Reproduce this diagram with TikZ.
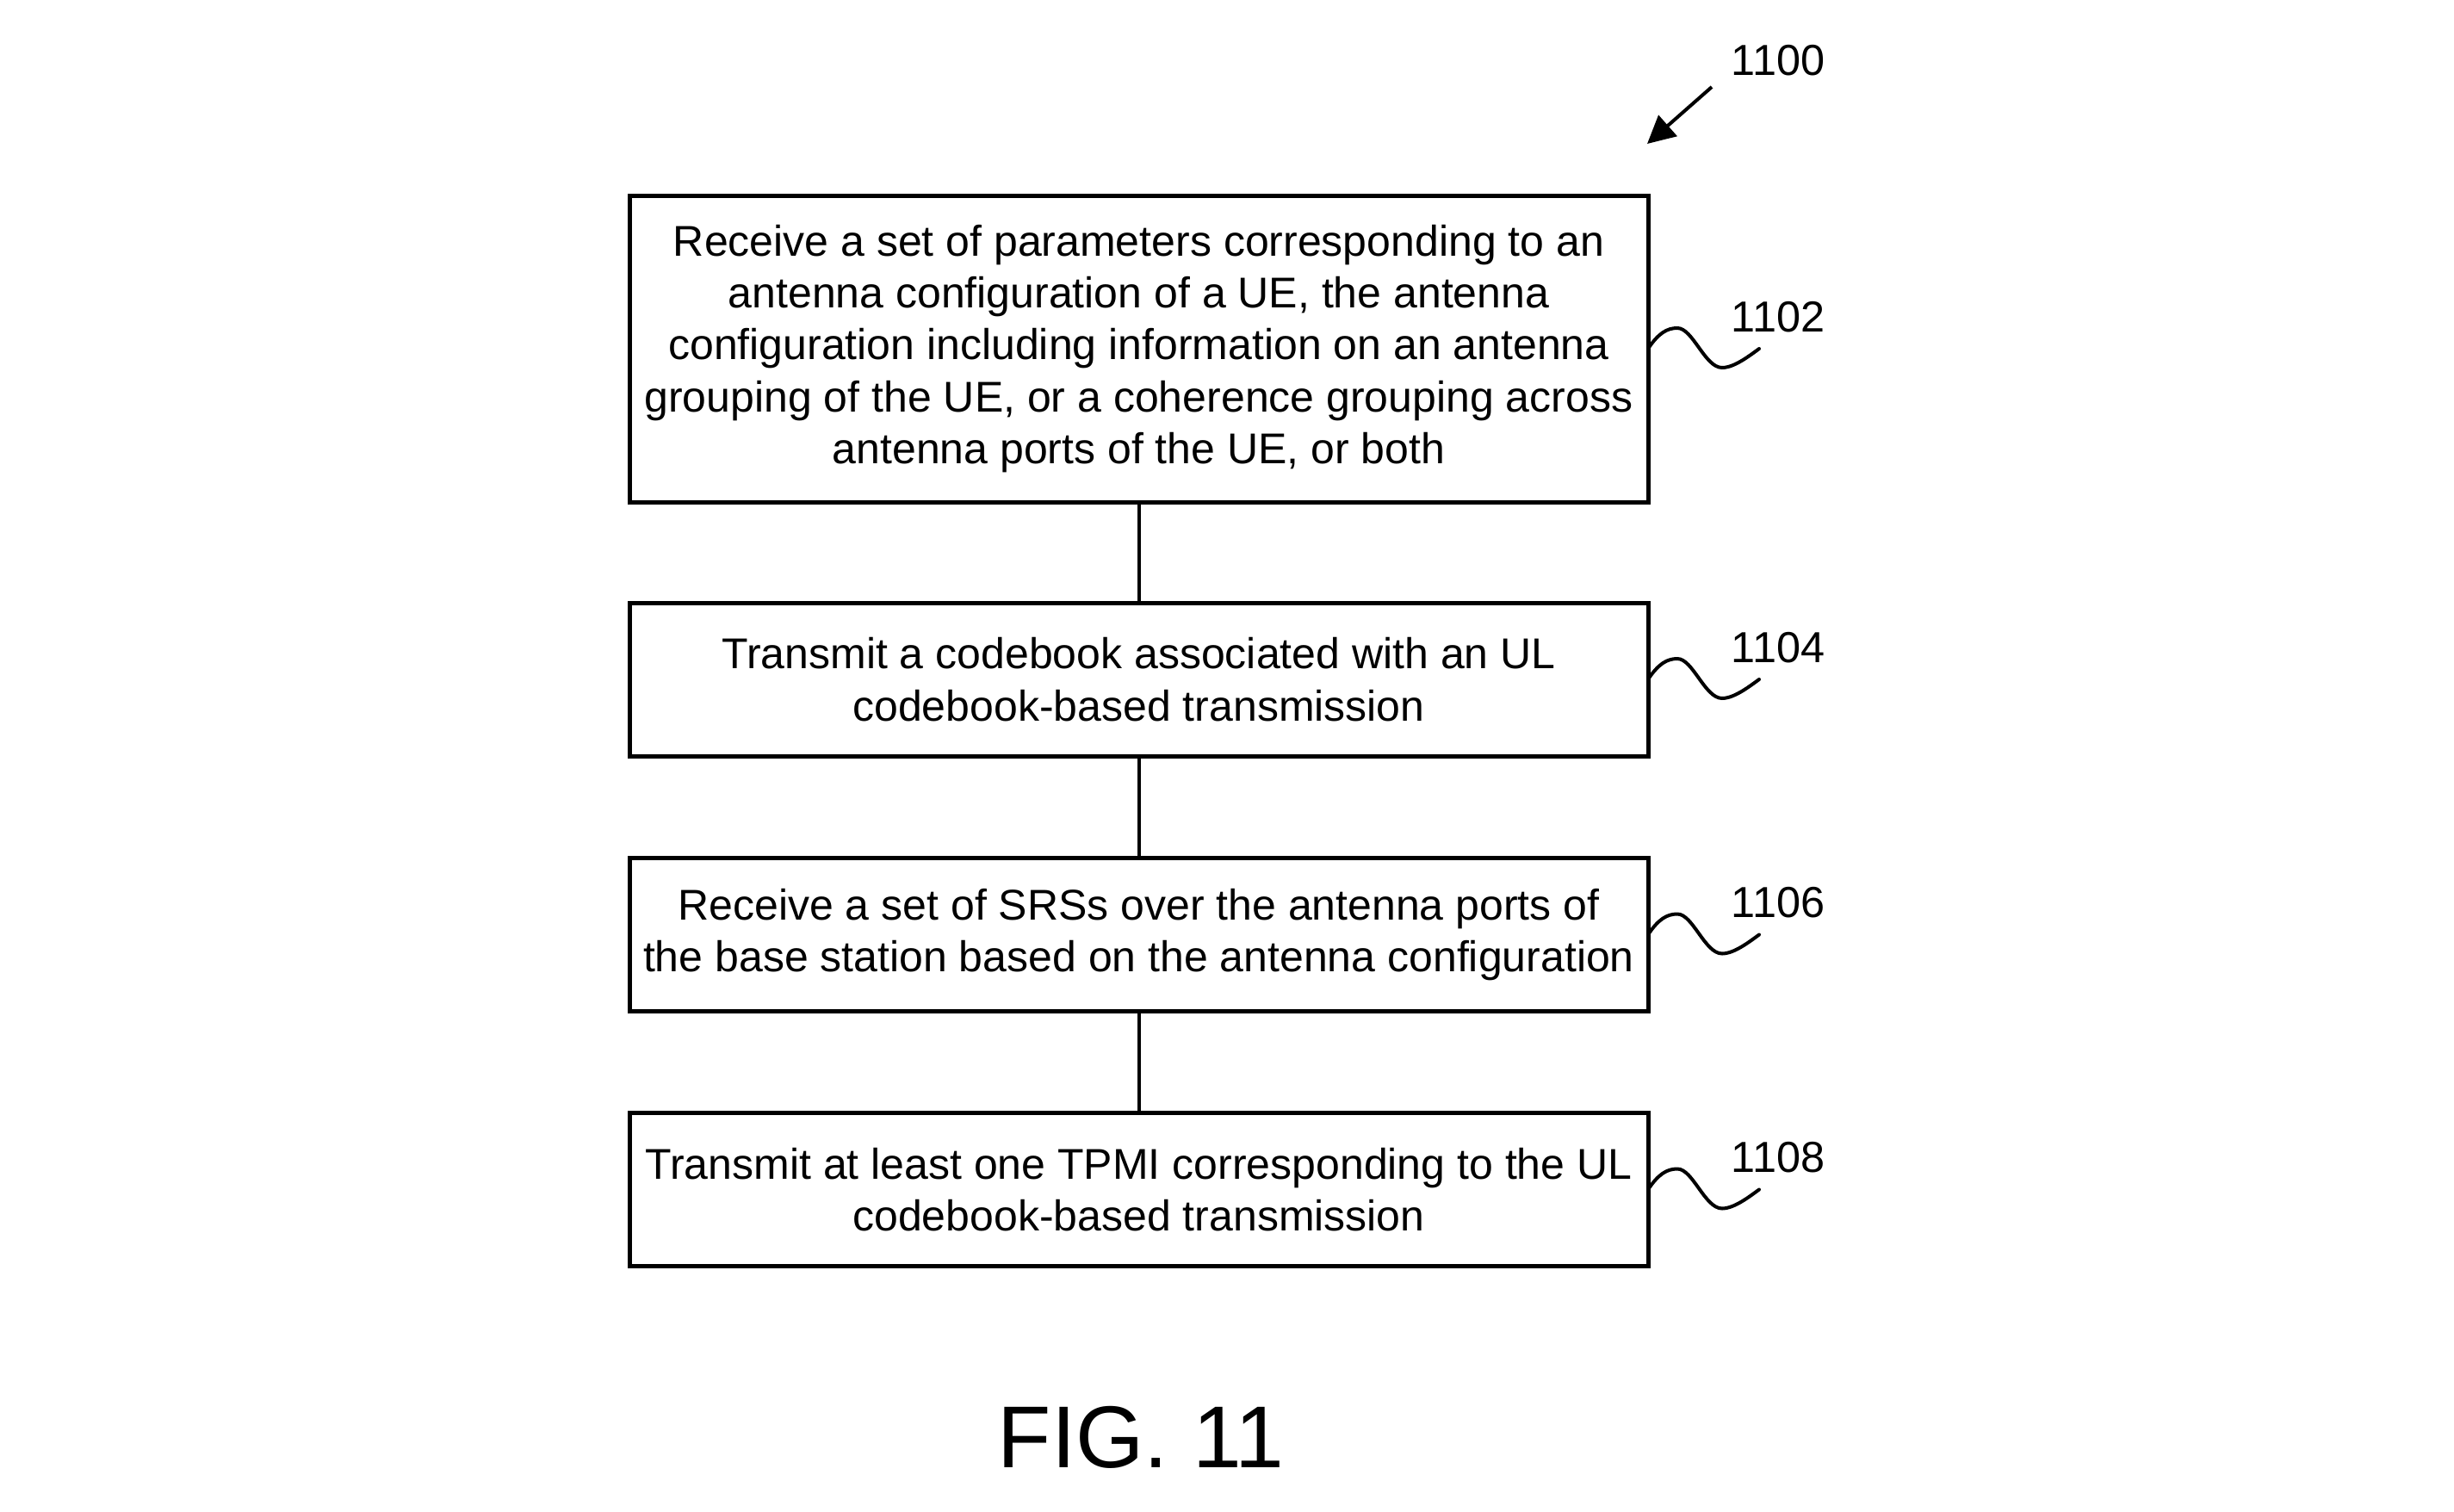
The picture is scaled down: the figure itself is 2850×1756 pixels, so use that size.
\documentclass[tikz,border=0pt]{standalone}
\usepackage{fontspec}
\setmainfont{Liberation Sans}
\usetikzlibrary{arrows.meta,calc}
\begin{document}
\begin{tikzpicture}[x=0.25pt,y=-0.25pt,
  stepbox/.style={draw,line width=1.25pt,rectangle,inner sep=0pt,outer sep=0pt,
    minimum width=295.75pt,align=center,font=\fontsize{12.5}{15.1}\selectfont},
  reflabel/.style={anchor=base west,inner sep=0pt,font=\fontsize{12.6}{15}\selectfont},
  link/.style={line width=1pt},
  squig/.style={line width=1pt,line cap=round}]
\useasboundingbox (0,0) rectangle (2850,1756);
\node[stepbox,minimum height=89pt] (b1) at (1322.5,405) {Receive a set of parameters corresponding to an\\antenna configuration of a UE, the antenna\\configuration including information on an antenna\\grouping of the UE, or a coherence grouping across\\antenna ports of the UE, or both};
\node[stepbox,minimum height=44.5pt] (b2) at (1322.5,789) {Transmit a codebook associated with an UL\\codebook-based transmission};
\node[stepbox,minimum height=44.5pt] (b3) at (1322.5,1085.5) {Receive a set of SRSs over the antenna ports of\\the base station based on the antenna configuration};
\node[stepbox,minimum height=44.5pt] (b4) at (1322.5,1381.5) {Transmit at least one TPMI corresponding to the UL\\codebook-based transmission};
\draw[link] (b1.south) -- (b2.north);
\draw[link] (b2.south) -- (b3.north);
\draw[link] (b3.south) -- (b4.north);
\foreach \b/\t in {b1/1102,b2/1104,b3/1106,b4/1108}{
  \begin{scope}[shift={(\b.east)}]
    \draw[squig] (0,0) .. controls (12,-18) and (22,-24) .. (34,-24)
      .. controls (52,-24) and (66,22) .. (86,22)
      .. controls (100,22) and (118,8) .. (129,0);
    \node[reflabel] (l\t) at (96,-20) {\t};
  \end{scope}
}
\coordinate (a0) at (1988,101);
\coordinate (a1) at (1913,167);
\draw[link,-{Triangle[length=8pt,width=8pt]}] (a0) -- (a1);
\node[reflabel] (l1100) at (2010,87) {1100};
\node[anchor=base,inner sep=0pt,font=\fontsize{25.5}{30}\selectfont] (fig) at (1325,1704) {FIG. 11};
\end{tikzpicture}
\end{document}
